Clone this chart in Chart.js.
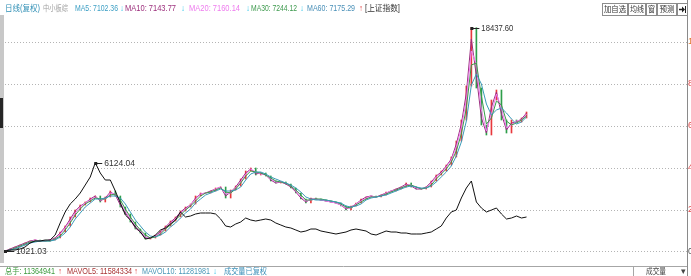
<!DOCTYPE html>
<html><head><meta charset="utf-8">
<script src="https://cdn.jsdelivr.net/npm/chart.js@4.4.1/dist/chart.umd.min.js"></script>
<style>html,body{margin:0;padding:0;background:#fff;overflow:hidden}#wrap{width:691px;height:276px;position:relative}canvas{display:block}</style>
</head><body><div id="wrap"><canvas id="c" width="691" height="276"></canvas></div>
<script>
// ---- data ----
const closeIdx=[1021.03,1177,1333,1489,1645,1801,1879,1801,1801,1879,
2035,2503,2971,3673,4219,4609,4843,5155,5311,4843,
5233,5701,5311,4453,3907,3283,2737,2425,1957,2035,
2269,2581,2971,3361,3673,4141,4453,4687,5311,5545,
5545,5701,5935,6013,5155,5779,6091,6637,7261,7495,
6949,7105,6871,6481,6325,6403,6247,5935,5545,5077,
4765,5155,5077,4999,4921,4843,4765,4531,4219,4531,
4765,5077,5233,5311,5233,5389,5623,5701,5857,6013,
6325,6013,5857,5857,6013,6481,6949,7261,7729,8353,
9601,11239,13891,18437.6,13735,10849,10069,12799,13579,11239,
10225,11239,11083,11395,11863];
const ma10=[1021,1177,1333,1489,1645,1801,1879,1801,1801,1879,
2035,2425,2893,3517,4141,4531,4765,5077,5311,4921,
5155,5623,5389,4609,3985,3439,2815,2503,2035,2035,
2191,2503,2893,3283,3595,4063,4375,4609,5155,5467,
5545,5701,5857,6013,5311,5623,6013,6559,7105,7417,
7027,7105,6949,6559,6325,6403,6247,6013,5623,5155,
4843,5077,5077,4999,4921,4843,4765,4609,4297,4453,
4687,4999,5233,5311,5233,5389,5545,5701,5857,6013,
6247,6091,5857,5857,6013,6403,6871,7183,7651,8197,
9367,10927,13345,17557,14671,11395,10225,12253,13423,11707,
10459,11005,11083,11317,11785];
const ma20=[1021,1099,1255,1411,1567,1723,1879,1801,1801,1879,
1957,2347,2815,3361,3985,4453,4765,4999,5233,4999,
5077,5545,5467,4765,4141,3517,2971,2581,2113,2035,
2191,2425,2815,3205,3517,3985,4297,4609,5077,5467,
5545,5623,5857,6013,5467,5545,5935,6403,7027,7417,
7183,7027,6949,6637,6403,6403,6325,6091,5701,5233,
4921,4999,5077,4999,4921,4843,4765,4609,4375,4375,
4687,4921,5155,5311,5233,5311,5545,5701,5779,5935,
6169,6169,5935,5857,5935,6325,6793,7105,7573,8119,
9133,10615,12799,16621,15607,12019,10381,11707,13267,12175,
10615,10849,11161,11239,11707];
const ma30=[1021,1099,1255,1411,1567,1723,1801,1801,1801,1801,
1957,2191,2659,3205,3829,4297,4687,4921,5155,5077,
5077,5389,5467,4999,4297,3673,3127,2659,2269,2035,
2113,2347,2737,3049,3439,3829,4219,4531,4921,5311,
5545,5623,5779,5935,5623,5545,5857,6325,6871,7261,
7183,7105,6949,6715,6481,6403,6325,6091,5779,5389,
4999,4999,5077,5077,4999,4921,4843,4687,4453,4375,
4609,4843,5077,5233,5233,5311,5467,5623,5779,5935,
6091,6169,6013,5857,5935,6169,6637,7027,7417,7963,
8821,10147,12175,15529,15685,13111,10927,11395,12721,12409,
11161,10849,11005,11239,11551];
const ma60=[1021,1099,1177,1333,1489,1645,1723,1801,1801,1801,
1879,2113,2425,2893,3517,3985,4453,4765,5077,5077,
5155,5311,5311,5155,4687,4063,3439,2971,2503,2191,
2113,2269,2503,2893,3205,3595,3985,4297,4765,5077,
5389,5545,5701,5857,5701,5701,5779,6013,6559,7027,
7183,7183,7027,6793,6637,6481,6325,6169,5935,5623,
5233,5077,4999,4999,4999,4921,4843,4765,4531,4453,
4531,4687,4999,5155,5233,5311,5389,5545,5701,5857,
6013,6091,6013,5935,5935,6091,6403,6793,7183,7651,
8431,9523,11161,13969,14827,14047,12487,11629,12019,12175,
11785,11317,10927,11083,11473];
const shIdx=[1010,1068,1068,1126,1242,1474,1590,1590,1648,1648,
1938,2634,3272,3736,4026,4374,4838,5302,6124.04,5534,
5128,5128,4490,3794,3098,2808,2402,2112,1706,1764,
1938,2228,2344,2576,2808,3272,2982,3040,3156,3214,
3214,3214,3156,2866,2460,2402,2576,2692,2924,2808,
2750,2808,2866,2808,2634,2518,2402,2344,2228,2112,
2170,2286,2286,2170,2112,2054,1996,2054,2112,2228,
2286,2228,2170,1996,1938,2054,2170,2112,2112,2054,
2054,1996,1996,1996,2054,2112,2286,2460,2924,3272,
3388,4084,4664,5070,3852,3504,3272,3388,3504,3156,
2866,2924,3040,2924,2982];
const slotCount=137; // periods on the time axis (the right part is left empty)
const periods=Array.from({length:slotCount},(_,i)=>'P'+i);
const pctTicks=[0,200,400,600,800,1000];
const pctTickLabels=['0','2','4','6','8','1'];
const headerTexts=['日线(复权)','中小板综','MA5: 7102.36','MA10: 7143.77','MA20: 7160.14','MA30: 7244.12','MA60: 7175.29','[上证指数]'];
const headerArrows=['↓','↓','↓','↓','↑'];
const footerTexts=['总手: 11364941','MAVOL5: 11584334','MAVOL10: 11281981','成交量已复权'];
const footerArrows=['↑','↑','↓'];
const buttons=['加自选','均线','窗','预测',''];

// ---- drawing ----
const FONT='"Liberation Sans","Noto Sans CJK SC",sans-serif';
const UP='#e8383d', DOWN='#2e9e4a', ARR_UP='#e03a3a', ARR_DN='#2cc4e8';
const candle=closeIdx.map((c,i)=>[i===0?c:closeIdx[i-1],c]);
const candleCol=closeIdx.map((c,i)=>(i===0||c>=closeIdx[i-1])?UP:DOWN);

const deco={id:'deco',
 beforeDraw(ch){const c=ch.ctx;c.save();c.fillStyle='#fff';c.fillRect(0,0,ch.width,ch.height);c.restore();},
 afterDraw(ch){
  const c=ch.ctx;c.save();
  const xs=ch.scales.x, ym=ch.scales.yMain, ysh=ch.scales.ySh;
  // left strip
  c.fillStyle='#c8c8c8';c.fillRect(0,15,4,248);
  c.fillStyle='#262626';c.fillRect(0,98,3,30);
  // right axis line
  c.strokeStyle='#8a8a8a';c.lineWidth=1;c.beginPath();c.moveTo(687.5,0);c.lineTo(687.5,276);c.stroke();
  // footer separator
  c.strokeStyle='#a6a6a6';c.beginPath();c.moveTo(0,266.5);c.lineTo(687,266.5);c.stroke();
  c.beginPath();c.moveTo(633.5,266);c.lineTo(633.5,276);c.stroke();
  // header
  c.textBaseline='middle';c.textAlign='left';
  c.font='8.5px '+FONT;
  const hx=[5,43,75,125,189,251,307,365], hw=[35,25,43,51,51,46,48,35],
        hc=['#2f8fb5','#a0a0a0','#3d9fc4','#9c2f7c','#ee7cee','#3e9a4e','#4a90b8','#333'];
  headerTexts.forEach((t,i)=>{c.fillStyle=hc[i];c.fillText(t,hx[i],9,hw[i]);});
  const ax=[120,181,246,300,359];
  headerArrows.forEach((t,i)=>{c.fillStyle=t==='↑'?ARR_UP:ARR_DN;c.fillText(t,ax[i],9,4);});
  // buttons
  c.font='7.5px '+FONT;
  const bx=[[602,25],[628,17],[646,10],[657,19],[677,10]];
  buttons.forEach((t,i)=>{const [x,w]=bx[i];c.fillStyle='#fff';c.fillRect(x,3,w,12);c.strokeStyle='#8c8c8c';c.strokeRect(x+0.5,3.5,w,12);
    if(t){c.fillStyle='#333';c.textAlign='center';c.fillText(t,x+w/2+0.5,9.5,w-3);}});
  // "expand" icon on the last button: arrow to a bar
  c.strokeStyle='#222';c.fillStyle='#222';c.lineWidth=1.5;
  c.beginPath();c.moveTo(679,9.5);c.lineTo(683,9.5);c.stroke();
  c.beginPath();c.moveTo(685,9.5);c.lineTo(682,6.5);c.lineTo(682,12.5);c.closePath();c.fill();
  c.lineWidth=1;c.beginPath();c.moveTo(685.5,6);c.lineTo(685.5,13);c.stroke();
  c.textAlign='left';
  // footer
  c.font='8.5px '+FONT;
  const fx=[5,67,142,224], fw=[50,65,68,43], fc=['#3c9a3c','#a83232','#4a98b8','#3a8fb8'];
  footerTexts.forEach((t,i)=>{c.fillStyle=fc[i];c.fillText(t,fx[i],272,fw[i]);});
  const fax=[58,134,213];
  footerArrows.forEach((t,i)=>{c.fillStyle=t==='↑'?ARR_UP:ARR_DN;c.fillText(t,fax[i],272,4);});
  c.fillStyle='#444';c.fillText('成交量',646,272,20);c.fillText('▾',681,272);
  // annotations: max / min of main index, max of overlay
  c.font='8.5px '+FONT;
  function mark(i,v,ax,txt,dx){
    const px=xs.getPixelForValue(i), py=Math.round(ax.getPixelForValue(v));
    c.strokeStyle='#222';c.lineWidth=1;c.beginPath();c.moveTo(px,py+0.5);c.lineTo(px+dx,py+0.5);c.stroke();
    c.fillStyle='#222';c.fillRect(px-1,py-1,3,3);
    c.fillStyle='#333';c.fillText(txt,px+dx+2,py+0.5,32);
  }
  const mx=closeIdx.indexOf(Math.max(...closeIdx)), mn=closeIdx.indexOf(Math.min(...closeIdx)), sx=shIdx.indexOf(Math.max(...shIdx));
  mark(mx,closeIdx[mx],ym,closeIdx[mx].toFixed(2),8);
  mark(sx,shIdx[sx],ysh,shIdx[sx].toFixed(2),7);
  mark(mn,closeIdx[mn],ym,closeIdx[mn].toFixed(2),9);
  c.restore();
 }};

const line=(label,data,color,axis,order,w)=>({type:'line',label,data,borderColor:color,borderWidth:w||1,pointRadius:0,tension:0,yAxisID:axis,order,fill:false});

new Chart(document.getElementById('c'),{
 type:'bar',
 data:{labels:periods,datasets:[
  line('上证指数',shIdx,'#111111','ySh',0,1),
  line('MA60',ma60,'#3b9bb8','yMain',1),
  line('MA30',ma30,'#3a9a48','yMain',2),
  line('MA20',ma20,'#f07cf0','yMain',3),
  line('MA10',ma10,'#9b2d7f','yMain',4),
  {type:'bar',label:'K',data:candle,backgroundColor:candleCol,borderWidth:0,barThickness:1,yAxisID:'yMain',order:10}
 ]},
 options:{responsive:false,animation:false,devicePixelRatio:1,
  layout:{padding:{left:5,top:18,bottom:14,right:0}},
  plugins:{legend:{display:false},tooltip:{enabled:false}},
  scales:{
   x:{type:'category',offset:false,display:false,grid:{display:false}},
   yMain:{type:'linear',min:163,max:19195,display:false},
   ySh:{type:'linear',min:372,max:14524,display:false},
   yPct:{type:'linear',position:'right',min:-47.62,max:1114.29,
     afterBuildTicks(s){s.ticks=pctTicks.map(v=>({value:v}));},
     afterFit(s){s.width=4;},
     grid:{color:'#b4b4b4',drawTicks:false,lineWidth:1},
     border:{display:false,dash:[1,2]},
     ticks:{padding:1,font:{size:9,family:FONT},
       color:(ctx)=>ctx.tick.value===0?'#555':(ctx.tick.value>=1000?'#e0782c':'#e04848'),
       callback:(v)=>pctTickLabels[pctTicks.indexOf(v)]}}
  }
 },
 plugins:[deco]
});
</script></body></html>
